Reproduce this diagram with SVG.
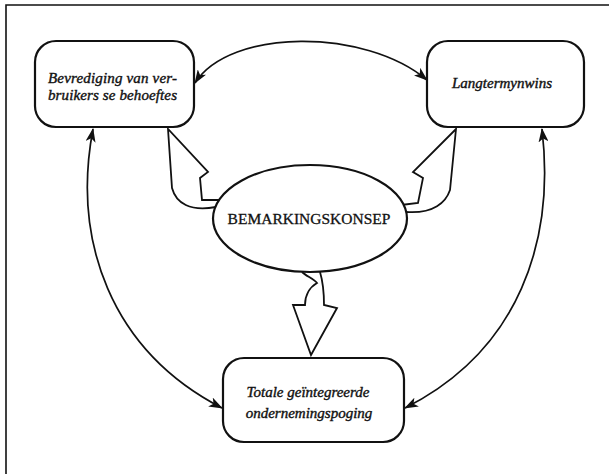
<svg xmlns="http://www.w3.org/2000/svg" width="609" height="474" viewBox="0 0 609 474">
<defs>
<style>
.box{fill:#fff;stroke:#111;stroke-width:2.2}
.blk{fill:#fff;stroke:#111;stroke-width:1.8;stroke-linejoin:miter}
.con{fill:none;stroke:#111;stroke-width:1.7}
.lbl{font-family:"Liberation Serif","Times New Roman",serif;font-style:italic;font-size:15px;fill:#111;stroke:#111;stroke-width:0.4}
.main{font-family:"Liberation Serif","Times New Roman",serif;font-size:15.5px;fill:#111;stroke:#111;stroke-width:0.3}
.frame{fill:none;stroke:#111;stroke-width:1.6}
</style>
<marker id="ah" viewBox="0 0 14 10" refX="13" refY="5" markerWidth="14" markerHeight="10" markerUnits="userSpaceOnUse" orient="auto-start-reverse">
<path d="M0,0 L14,5 L0,10 L3.5,5 Z" fill="#111"/>
</marker>
</defs>
<rect width="609" height="474" fill="#fff"/>
<path class="frame" d="M6,474 L6,5 L609,5"/>

<g id="connectors">
<path class="con" d="M195,83 C230,28 365,28 427,80" marker-start="url(#ah)" marker-end="url(#ah)"/>
<path class="con" d="M93,129 C72,240 110,350 222,408" marker-start="url(#ah)" marker-end="url(#ah)"/>
<path class="con" d="M542,129 C555,240 520,350 405,408" marker-start="url(#ah)" marker-end="url(#ah)"/>
</g>

<g id="arrow-left">
<path class="blk" d="M220,200 L202,200 L200,178 L208,172 L168,129 L172,188 C176,203 190,212 216,207"/>
</g>
<g id="arrow-right">
<path class="blk" d="M401,205 L418,203 L423,178 L413,172 L456,129 L450,190 C446,202 434,214 406,212"/>
</g>
<g id="arrow-down">
<path class="blk" d="M302,272 C306,276 314,279 317,283 C310,287 305,295 305,305 L293,305 L311,355 L337,308 L324,305 C324,292 323,282 320,272"/>
</g>

<g id="node-bevrediging">
<rect class="box" x="35" y="41" width="159" height="86" rx="21"/>
<text class="lbl" x="48" y="83" textLength="129" lengthAdjust="spacing">Bevrediging van ver-</text>
<text class="lbl" x="48" y="100" textLength="129" lengthAdjust="spacing">bruikers se behoeftes</text>
</g>
<g id="node-langtermynwins">
<rect class="box" x="427" y="41" width="157" height="86" rx="21"/>
<text class="lbl" x="502" y="88" text-anchor="middle">Langtermynwins</text>
</g>
<g id="node-bemarkingskonsep">
<ellipse class="box" cx="310" cy="218.5" rx="97" ry="53.5"/>
<text class="main" x="309" y="224" text-anchor="middle">BEMARKINGSKONSEP</text>
</g>
<g id="node-totale">
<rect class="box" x="223" y="358" width="181" height="84" rx="21"/>
<text class="lbl" x="308" y="397" text-anchor="middle">Totale geïntegreerde</text>
<text class="lbl" x="309" y="418" text-anchor="middle">ondernemingspoging</text>
</g>
</svg>
